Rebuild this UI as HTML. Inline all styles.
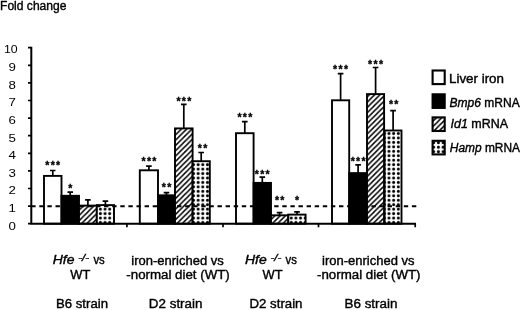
<!DOCTYPE html>
<html><head><meta charset="utf-8"><title>Fold change</title>
<style>
html,body{margin:0;padding:0;background:#fff}
svg{display:block;will-change:transform}
text{font-family:"Liberation Sans","DejaVu Sans",sans-serif;fill:#000}
.t{font-size:12.5px;stroke:#000;stroke-width:0.38px}
.n{font-size:11.7px}
.s{font-size:10.5px;letter-spacing:1.3px;text-anchor:middle;font-weight:bold;stroke:#000;stroke-width:0.35px}
.i{font-style:italic}
</style></head><body>
<svg width="520" height="310" viewBox="0 0 520 310">
<defs>
<pattern id="h" patternUnits="userSpaceOnUse" width="5.3" height="5.3" patternTransform="translate(3.0,0)">
<rect width="5.3" height="5.3" fill="#fff"/>
<path d="M-1.325,1.325 L1.325,-1.325 M0,5.3 L5.3,0 M3.975,6.625 L6.625,3.975" stroke="#000" stroke-width="1.45" fill="none"/>
</pattern>
<pattern id="d" patternUnits="userSpaceOnUse" width="4.655" height="4.45" patternTransform="translate(0.31,-2.225)">
<rect width="4.655" height="4.45" fill="#fff"/>
<circle cx="2.3275" cy="2.225" r="1.5" fill="#000"/>
</pattern>
<pattern id="d2" patternUnits="userSpaceOnUse" width="4.7" height="4.5" patternTransform="translate(431.35,140.45)">
<rect width="4.7" height="4.5" fill="#fff"/>
<circle cx="2.35" cy="2.25" r="1.5" fill="#000"/>
</pattern>
</defs>
<rect width="520" height="310" fill="#fff"/>

<text class="t" x="0" y="10" textLength="66.5" lengthAdjust="spacingAndGlyphs">Fold change</text>
<text class="n" x="8.5" y="229.5" textLength="7.4" lengthAdjust="spacingAndGlyphs">0</text>
<text class="n" x="8.5" y="211.9" textLength="7.4" lengthAdjust="spacingAndGlyphs">1</text>
<text class="n" x="8.5" y="194.3" textLength="7.4" lengthAdjust="spacingAndGlyphs">2</text>
<text class="n" x="8.5" y="176.7" textLength="7.4" lengthAdjust="spacingAndGlyphs">3</text>
<text class="n" x="8.5" y="159.1" textLength="7.4" lengthAdjust="spacingAndGlyphs">4</text>
<text class="n" x="8.5" y="141.5" textLength="7.4" lengthAdjust="spacingAndGlyphs">5</text>
<text class="n" x="8.5" y="123.9" textLength="7.4" lengthAdjust="spacingAndGlyphs">6</text>
<text class="n" x="8.5" y="106.3" textLength="7.4" lengthAdjust="spacingAndGlyphs">7</text>
<text class="n" x="8.5" y="88.7" textLength="7.4" lengthAdjust="spacingAndGlyphs">8</text>
<text class="n" x="8.5" y="71.1" textLength="7.4" lengthAdjust="spacingAndGlyphs">9</text>
<text class="n" x="3.9" y="53.2" textLength="13.7" lengthAdjust="spacingAndGlyphs">10</text>
<path d="M52.8,175.9 V170.5 M50.0,170.5 H55.5" stroke="#000" stroke-width="1.7" fill="none"/>
<rect x="44.0" y="175.9" width="17.5" height="47.8" fill="#fff" stroke="#000" stroke-width="1.9"/>
<text class="s" x="53.4" y="169.4">***</text>
<path d="M70.2,195.8 V192.2 M67.5,192.2 H73.0" stroke="#000" stroke-width="1.7" fill="none"/>
<rect x="61.5" y="195.8" width="17.5" height="27.9" fill="#000" stroke="#000" stroke-width="1.9"/>
<text class="s" x="70.9" y="191.6">*</text>
<path d="M87.9,205.6 V199.8 M85.1,199.8 H90.7" stroke="#000" stroke-width="1.7" fill="none"/>
<rect x="79.0" y="205.6" width="17.8" height="18.1" fill="url(#h)" stroke="#000" stroke-width="1.9"/>
<path d="M105.4,205.1 V201.2 M102.6,201.2 H108.2" stroke="#000" stroke-width="1.7" fill="none"/>
<rect x="96.8" y="205.1" width="17.2" height="18.6" fill="url(#d)" stroke="#000" stroke-width="1.9"/>
<path d="M148.9,170.3 V166.2 M146.1,166.2 H151.7" stroke="#000" stroke-width="1.7" fill="none"/>
<rect x="139.8" y="170.3" width="18.2" height="53.4" fill="#fff" stroke="#000" stroke-width="1.9"/>
<text class="s" x="149.6" y="165.3">***</text>
<path d="M166.5,195.3 V192.7 M163.7,192.7 H169.3" stroke="#000" stroke-width="1.7" fill="none"/>
<rect x="158.0" y="195.3" width="17.0" height="28.4" fill="#000" stroke="#000" stroke-width="1.9"/>
<text class="s" x="167.2" y="191.2">**</text>
<path d="M183.8,128.4 V104.3 M181.0,104.3 H186.6" stroke="#000" stroke-width="1.7" fill="none"/>
<rect x="175.0" y="128.4" width="17.6" height="95.3" fill="url(#h)" stroke="#000" stroke-width="1.9"/>
<text class="s" x="184.5" y="104.8">***</text>
<path d="M201.2,161.2 V152.5 M198.4,152.5 H204.0" stroke="#000" stroke-width="1.7" fill="none"/>
<rect x="192.6" y="161.2" width="17.2" height="62.5" fill="url(#d)" stroke="#000" stroke-width="1.9"/>
<text class="s" x="203.2" y="151.6">**</text>
<path d="M244.8,133.2 V121.6 M242.0,121.6 H247.6" stroke="#000" stroke-width="1.7" fill="none"/>
<rect x="236.0" y="133.2" width="17.6" height="90.5" fill="#fff" stroke="#000" stroke-width="1.9"/>
<text class="s" x="245.5" y="121.0">***</text>
<path d="M262.3,182.9 V177.1 M259.5,177.1 H265.1" stroke="#000" stroke-width="1.7" fill="none"/>
<rect x="253.6" y="182.9" width="17.4" height="40.8" fill="#000" stroke="#000" stroke-width="1.9"/>
<text class="s" x="262.9" y="178.0">***</text>
<path d="M279.6,215.3 V212.6 M276.8,212.6 H282.4" stroke="#000" stroke-width="1.7" fill="none"/>
<rect x="271.0" y="215.3" width="17.3" height="8.4" fill="url(#h)" stroke="#000" stroke-width="1.9"/>
<text class="s" x="280.3" y="204.3">**</text>
<path d="M297.0,214.6 V211.8 M294.2,211.8 H299.8" stroke="#000" stroke-width="1.7" fill="none"/>
<rect x="288.3" y="214.6" width="17.3" height="9.1" fill="url(#d)" stroke="#000" stroke-width="1.9"/>
<text class="s" x="297.6" y="204.1">*</text>
<path d="M340.6,100.3 V73.6 M337.8,73.6 H343.4" stroke="#000" stroke-width="1.7" fill="none"/>
<rect x="332.0" y="100.3" width="17.2" height="123.4" fill="#fff" stroke="#000" stroke-width="1.9"/>
<text class="s" x="341.2" y="73.2">***</text>
<path d="M358.1,173.1 V164.9 M355.3,164.9 H360.9" stroke="#000" stroke-width="1.7" fill="none"/>
<rect x="349.2" y="173.1" width="17.8" height="50.6" fill="#000" stroke="#000" stroke-width="1.9"/>
<text class="s" x="358.8" y="164.7">***</text>
<path d="M375.6,94.1 V67.5 M372.8,67.5 H378.4" stroke="#000" stroke-width="1.7" fill="none"/>
<rect x="367.0" y="94.1" width="17.1" height="129.6" fill="url(#h)" stroke="#000" stroke-width="1.9"/>
<text class="s" x="376.2" y="67.6">***</text>
<path d="M393.1,130.5 V110.6 M390.2,110.6 H395.9" stroke="#000" stroke-width="1.7" fill="none"/>
<rect x="384.6" y="130.5" width="16.9" height="93.2" fill="url(#d)" stroke="#000" stroke-width="1.9"/>
<text class="s" x="394.3" y="108.0">**</text>
<path d="M31.2,206.3 H417" stroke="#000" stroke-width="1.9" stroke-dasharray="4.4,3.7" fill="none"/>
<path d="M31.3,46.8 V224.7 M30.3,223.7 H416" stroke="#000" stroke-width="2" fill="none"/>
<path d="M28,223.7 H31 M28,206.1 H31 M28,188.5 H31 M28,170.9 H31 M28,153.3 H31 M28,135.7 H31 M28,118.1 H31 M28,100.5 H31 M28,82.9 H31 M28,65.3 H31 M28,47.7 H31 M126.9,223.7 V227.3 M223,223.7 V227.3 M318.5,223.7 V227.3 M415.2,223.7 V227.3 " stroke="#000" stroke-width="1.7" fill="none"/>
<rect x="432.6" y="70.5" width="12.1" height="13.6" fill="#fff" stroke="#000" stroke-width="2.1"/>
<rect x="432.6" y="94.3" width="12.1" height="13.6" fill="#000" stroke="#000" stroke-width="2.1"/>
<rect x="432.6" y="117.4" width="12.1" height="13.6" fill="url(#h)" stroke="#000" stroke-width="2.1"/>
<rect x="432.6" y="140.8" width="12.1" height="13.6" fill="url(#d2)" stroke="#000" stroke-width="2.1"/>
<text class="t" x="449" y="83" textLength="55" lengthAdjust="spacingAndGlyphs">Liver iron</text>
<text class="t" x="449.5" y="106.5" textLength="70.3" lengthAdjust="spacingAndGlyphs"><tspan class="i">Bmp6</tspan> mRNA</text>
<text class="t" x="450.5" y="127.8" textLength="57.5" lengthAdjust="spacingAndGlyphs"><tspan class="i">Id1</tspan> mRNA</text>
<text class="t" x="449.8" y="151.8" textLength="70.2" lengthAdjust="spacingAndGlyphs"><tspan class="i">Hamp</tspan> mRNA</text>
<text class="t i" x="52.8" y="264" textLength="21.7" lengthAdjust="spacingAndGlyphs">Hfe</text>
<text class="i" x="78.3" y="261" font-size="8.5" stroke="#000" stroke-width="0.35" textLength="10.8" lengthAdjust="spacingAndGlyphs">-/-</text>
<text class="t" x="93.4" y="264" textLength="11.3" lengthAdjust="spacingAndGlyphs">vs</text>
<text class="t" x="70.3" y="278.7" textLength="20" lengthAdjust="spacingAndGlyphs">WT</text>
<text class="t i" x="245" y="264" textLength="21.7" lengthAdjust="spacingAndGlyphs">Hfe</text>
<text class="i" x="270.5" y="261" font-size="8.5" stroke="#000" stroke-width="0.35" textLength="10.8" lengthAdjust="spacingAndGlyphs">-/-</text>
<text class="t" x="285.6" y="264" textLength="11.3" lengthAdjust="spacingAndGlyphs">vs</text>
<text class="t" x="262.5" y="278.7" textLength="20" lengthAdjust="spacingAndGlyphs">WT</text>
<text class="t" x="131.3" y="264.5" textLength="92.5" lengthAdjust="spacingAndGlyphs">iron-enriched vs</text>
<text class="t" x="126.30000000000001" y="278.7" textLength="103.5" lengthAdjust="spacingAndGlyphs">-normal diet (WT)</text>
<text class="t" x="322" y="264.5" textLength="92.5" lengthAdjust="spacingAndGlyphs">iron-enriched vs</text>
<text class="t" x="317" y="278.7" textLength="103.5" lengthAdjust="spacingAndGlyphs">-normal diet (WT)</text>
<text class="t" x="56" y="308" textLength="52" lengthAdjust="spacingAndGlyphs">B6 strain</text>
<text class="t" x="148.8" y="308" textLength="53.7" lengthAdjust="spacingAndGlyphs">D2 strain</text>
<text class="t" x="249.5" y="308" textLength="53" lengthAdjust="spacingAndGlyphs">D2 strain</text>
<text class="t" x="344.5" y="308" textLength="53" lengthAdjust="spacingAndGlyphs">B6 strain</text>
</svg></body></html>
